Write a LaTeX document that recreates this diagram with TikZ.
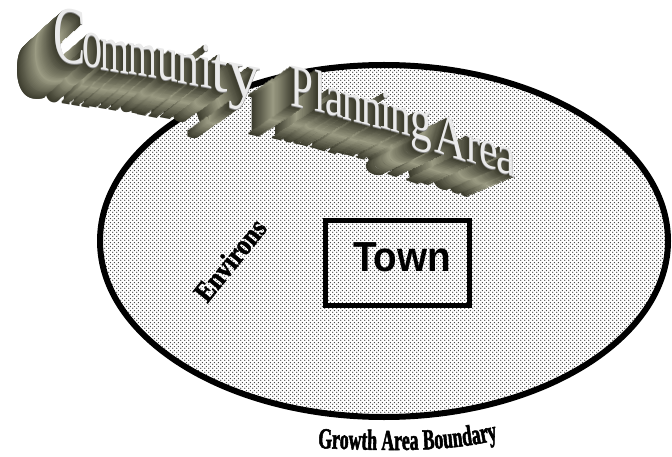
\documentclass[tikz,border=0pt]{standalone}
\usepackage{fontspec}
\setmainfont{Liberation Serif}
\newfontfamily\titlefont{Liberation Serif}
\newfontfamily\labelfont[FakeStretch=0.61,FakeBold=1.8]{Liberation Serif}
\newfontfamily\envfont[FakeStretch=0.86,FakeBold=1.8]{Liberation Serif}
\newfontfamily\townfont{Liberation Sans}
\usetikzlibrary{patterns,decorations.text}

\definecolor{olvD}{HTML}{3A3A2C}
\definecolor{olvL}{HTML}{9C9C84}
\definecolor{faceRim}{HTML}{8A8A8A}
\definecolor{faceTop}{HTML}{EAEAEA}
\definecolor{dotgray}{HTML}{383838}

% fine stipple: dots on a diagonal grid
\pgfdeclarepatternformonly{stipple}{\pgfpointorigin}{\pgfpoint{4pt}{4pt}}{\pgfpoint{4pt}{4pt}}{%
  \pgfpathcircle{\pgfpoint{1pt}{1pt}}{0.78pt}%
  \pgfpathcircle{\pgfpoint{3pt}{3pt}}{0.78pt}%
  \pgfusepath{fill}}

\tikzset{
  glyph/.style={transform shape, anchor=base west, inner sep=0pt, outer sep=0pt},
  boundary/.style={line width=6pt},
  townframe/.style={draw, line width=5pt, minimum width=144pt, minimum height=85pt, inner sep=0pt},
}

% x / baseline y / slant / size / vertical stretch / horizontal stretch / letter
\def\titleletters{53/61/.15/44/1.85/1.1/C, 82/66/.16/40/1.8/1.0/o, 100/70/.17/37/1.8/1.0/m,
  128/74/.17/37/1.8/1.0/m, 157/79/.18/38/1.75/1.1/u, 177/83/.19/38/1.7/1.15/n,
  200/87/.19/38/1.7/1.15/i, 211/90/.2/38/1.7/1.55/t, 228/94/.2/44/1.55/1.45/y,
  290/106/.22/38/1.6/1.08/P, 314/111/.24/38/1.55/1.08/l, 325/114/.25/38/1.5/1.08/a,
  342/119/.26/38/1.5/1.08/n, 361/124/.27/38/1.5/1.08/n, 380/128/.28/38/1.45/1.08/i,
  390/131/.28/38/1.45/1.08/n, 410/137/.29/40/1.45/1.08/g,
  434/152/.33/42/1.4/1.05/A, 466/161/.35/40/1.4/1.05/r, 479/165/.36/40/1.4/1.05/e,
  496/171/.37/42/1.35/1.05/a}

\begin{document}
\begin{tikzpicture}[x=1pt,y=1pt]
\useasboundingbox (0,0) rectangle (672,-457);
\fill[white] (0,0) rectangle (672,-457);

% growth area
\path[pattern=stipple, pattern color=dotgray] (384,-241) ellipse [x radius=284pt, y radius=176pt];
\draw[boundary] (384,-241) ellipse [x radius=284pt, y radius=176pt];

% town
\node[townframe] (townbox) at (397.5,-263) {};
\node[font=\townfont\bfseries\fontsize{42}{42}\selectfont, inner sep=0pt] (town) at (402,-257.5) {\scalebox{0.92}[1]{Town}};

% environs
\node[rotate=51, font=\envfont\bfseries\fontsize{29}{29}\selectfont, inner sep=0pt] (env) at (230,-260) {Environs};

% boundary label
\path[decorate, decoration={text along path, text align=left,
  text={|\labelfont\bfseries\fontsize{29}{29}\selectfont|Growth Area Boundary}}]
  (318,-448) .. controls (410,-452) and (460,-451) .. (512,-436);

% extruded title: sides, back to front
\foreach \k in {40,...,1}{
  \pgfmathsetmacro\f{\k/40}
  \pgfmathtruncatemacro\pc{100*(1-abs(2*\f-1))}
  \colorlet{exc}{olvL!\pc!olvD}
  \foreach \lx/\ly/\ls/\lf/\lys/\lxs/\ch [count=\i] in \titleletters {
    \pgfmathsetmacro\ddx{\f*(-38-10*(\i-1)/20)}
    \pgfmathsetmacro\ddy{\f*(35-15*(\i-1)/20)}
    \node[glyph, text=exc, shift={(\lx+\ddx,-\ly-\ddy)}, yslant=-\ls, yscale=\lys, xscale=\lxs,
      font=\titlefont\fontsize{\lf}{\lf}\selectfont] (side-\k-\i) at (0,0) {\ch};
  }
}
% title faces
\foreach \lx/\ly/\ls/\lf/\lys/\lxs/\ch [count=\i] in \titleletters {
  \node[glyph, text=faceRim, shift={(\lx+0.45,-\ly-0.45)}, yslant=-\ls, yscale=\lys, xscale=\lxs,
    font=\titlefont\fontsize{\lf}{\lf}\selectfont] (rim-\i) at (0,0) {\ch};
  \node[glyph, text=faceTop, shift={(\lx,-\ly)}, yslant=-\ls, yscale=\lys, xscale=\lxs,
    font=\titlefont\fontsize{\lf}{\lf}\selectfont] (face-\i) at (0,0) {\ch};
}
\end{tikzpicture}
\end{document}
